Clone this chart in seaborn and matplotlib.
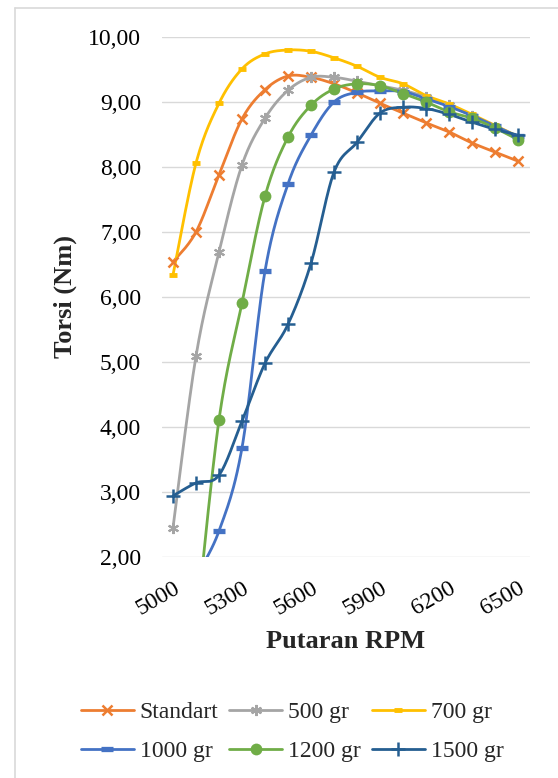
import numpy as np
import pandas as pd
import matplotlib
matplotlib.use("Agg")
import matplotlib.pyplot as plt
import seaborn as sns
from matplotlib.lines import Line2D

# ---------------- data ----------------
rpm = [5000, 5100, 5200, 5300, 5400, 5500, 5600, 5700,
       5800, 5900, 6000, 6100, 6200, 6300, 6400, 6500]
standart = [6.54, 7.00, 7.88, 8.74, 9.19, 9.40, 9.38, 9.28,
            9.14, 8.98, 8.83, 8.68, 8.54, 8.37, 8.23, 8.09]
gr500 = [2.45, 5.09, 6.69, 8.03, 8.75, 9.18, 9.38, 9.38,
         9.32, 9.25, 9.18, 9.08, 8.95, 8.79, 8.62, 8.43]
gr700 = [6.34, 8.06, 8.98, 9.51, 9.74, 9.80, 9.78, 9.68,
         9.55, 9.38, 9.28, 9.10, 8.97, 8.81, 8.64, 8.47]
gr1000 = [np.nan, 1.70, 2.40, 3.68, 6.40, 7.74, 8.49, 9.00,
          9.15, 9.17, 9.16, 9.05, 8.93, 8.79, 8.63, 8.47]
gr1200 = [np.nan, 0.90, 4.11, 5.91, 7.55, 8.46, 8.95, 9.20,
          9.28, 9.25, 9.13, 9.00, 8.85, 8.75, 8.60, 8.42]
gr1500 = [2.94, 3.14, 3.26, 4.09, 4.98, 5.58, 6.52, 7.92,
          8.38, 8.83, 8.92, 8.90, 8.81, 8.69, 8.58, 8.49]

series_names = ["Standart", "500 gr", "700 gr", "1000 gr", "1200 gr", "1500 gr"]
series_values = [standart, gr500, gr700, gr1000, gr1200, gr1500]

x_ticks = [5000, 5300, 5600, 5900, 6200, 6500]
y_ticks = [2, 3, 4, 5, 6, 7, 8, 9, 10]
y_tick_labels = ["2,00", "3,00", "4,00", "5,00", "6,00", "7,00", "8,00", "9,00", "10,00"]

# ---------------- styles ----------------
colors = ["#ED7D31", "#A5A5A5", "#FFC000", "#4472C4", "#70AD47", "#255E91"]
markers = [dict(marker="x", ms=7.5, mew=1.8),
           dict(marker=(6, 2, 0), ms=8, mew=1.5),
           dict(marker="_", ms=6, mew=3.5),
           dict(marker="_", ms=9, mew=3.8),
           dict(marker="o", ms=8.5, mew=0),
           dict(marker="+", ms=9.5, mew=1.8)]


def excel_smooth(xs, ys, n=24):
    """Bezier smoothing of the data points (Catmull-Rom style, as in Excel)."""
    pts = np.array([(a, b) for a, b in zip(xs, ys) if not np.isnan(b)], float)
    out = [pts[0]]
    m = len(pts)
    t = np.linspace(0, 1, n + 1)[1:, None]
    for i in range(m - 1):
        p0 = pts[i]
        p3 = pts[i + 1]
        pm = pts[i - 1] if i > 0 else pts[i]
        pp = pts[i + 2] if i + 2 < m else pts[i + 1]
        c1 = p0 + (p3 - pm) / 6.0
        c2 = p3 - (pp - p0) / 6.0
        seg = ((1 - t) ** 3) * p0 + 3 * ((1 - t) ** 2) * t * c1 + 3 * (1 - t) * t ** 2 * c2 + t ** 3 * p3
        out.extend(seg)
    out = np.array(out)
    return out[:, 0], out[:, 1]


sns.set_theme(style="white")
plt.rcParams["font.family"] = ["Liberation Serif", "DejaVu Serif"]

W, H = 558, 778
fig = plt.figure(figsize=(W / 100, H / 100), dpi=100)
ax = fig.add_axes([162 / W, 1 - 557 / H, (530 - 162) / W, (557 - 37) / H])

for name, vals, col, mk in zip(series_names, series_values, colors, markers):
    sx, sy = excel_smooth(rpm, vals)
    sns.lineplot(x=sx, y=sy, ax=ax, color=col, lw=2.0, sort=False,
                 estimator=None, legend=False, zorder=2)
    df = pd.DataFrame({"rpm": rpm, "val": vals}).dropna()
    sns.lineplot(data=df, x="rpm", y="val", ax=ax, color=col, linestyle="none",
                 estimator=None, legend=False, zorder=3,
                 marker=mk["marker"], markersize=mk["ms"], markeredgewidth=mk["mew"],
                 markeredgecolor=col, markerfacecolor=col)

ax.set_xlim(5000 - 11 / 23 * 100, 6500 + 12 / 23 * 100)
ax.set_ylim(2, 10)
ax.set_yticks(y_ticks)
ax.set_yticklabels(y_tick_labels)
ax.set_xticks(x_ticks)
ax.set_xticklabels([str(v) for v in x_ticks])
ax.tick_params(axis="both", length=0, labelsize=17, colors="#000000")
ax.tick_params(axis="y", pad=15)
ax.tick_params(axis="x", pad=15)
for lab in ax.get_xticklabels():
    lab.set_rotation(30)
    lab.set_rotation_mode("anchor")
    lab.set_ha("right")
    lab.set_va("top")

ax.grid(axis="y", color="#D9D9D9", lw=1.0)
ax.grid(axis="x", visible=False)
for s in ax.spines.values():
    s.set_visible(False)
ax.set_axisbelow(True)

ax.set_xlabel("Putaran RPM", fontsize=19, fontweight="bold")
ax.set_ylabel("Torsi (Nm)", fontsize=19, fontweight="bold")
ax.xaxis.set_label_coords(0.5, -(641 - 557) / 520)
ax.xaxis.label.set_va("center")
ax.yaxis.set_label_coords((65 - 162) / 368, 0.5)
ax.yaxis.label.set_va("center")

handles = [Line2D([0], [0], color=c, lw=2.0, marker=m["marker"], ms=m["ms"],
                  mew=m["mew"], markeredgecolor=c, markerfacecolor=c)
           for c, m in zip(colors, markers)]
# legend is filled column-wise; reorder so that rows read left to right
order = [0, 3, 1, 4, 2, 5]
fig.legend([handles[i] for i in order], [series_names[i] for i in order],
           ncol=3, loc="center",
           bbox_to_anchor=(292 / W, 1 - 732 / H), frameon=False, fontsize=17,
           handlelength=2.25, handletextpad=0.25, columnspacing=0.45,
           labelspacing=0.75, borderpad=0)

# chart-area frame (left and top edges visible in the crop)
fig.add_artist(Line2D([14.5 / W, 14.5 / W], [0, 1 - 8 / H], transform=fig.transFigure,
                      color="#D9D9D9", lw=1.2))
fig.add_artist(Line2D([14.5 / W, 1], [1 - 8 / H, 1 - 8 / H], transform=fig.transFigure,
                      color="#D9D9D9", lw=1.2))

fig.savefig("out.png", dpi=100, facecolor="white")
